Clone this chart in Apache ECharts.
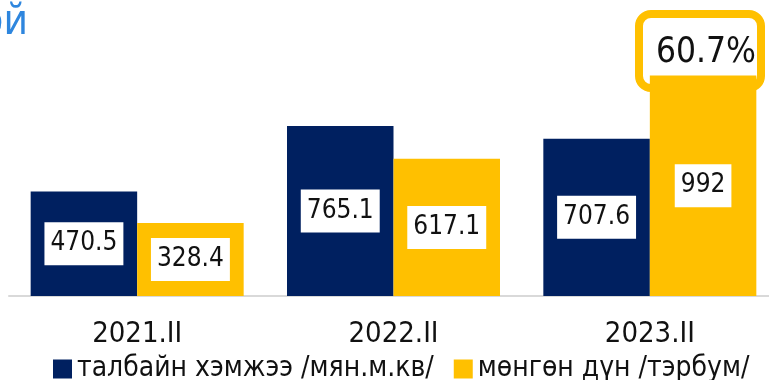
<!DOCTYPE html>
<html>
<head>
<meta charset="utf-8">
<script src="https://cdn.jsdelivr.net/npm/echarts@6/dist/echarts.min.js"></script>
<style>
  html, body { margin: 0; padding: 0; background: #ffffff; overflow: hidden; }
  #chart { width: 790px; height: 380px; }
</style>
</head>
<body>
<div id="chart"></div>
<script>
// Quarterly figures: floor area (thousand sq. m) and amount (billion ₮)
var categories = ['2021.II', '2022.II', '2023.II'];
var areaValues = [470.5, 765.1, 707.6];
var amountValues = [328.4, 617.1, 992];
var seriesNames = ['талбайн хэмжээ /мян.м.кв/', 'мөнгөн дүн /тэрбум/'];
var growthLabel = '60.7%';
var titleText = 'ой';

var NAVY = '#002060';
var GOLD = '#FFC000';
var NARROW = "'Liberation Sans Narrow', 'Arial Narrow', 'DejaVu Sans Condensed', sans-serif";

// the plot runs slightly past the right edge of the page, so the canvas is wider than the viewport
var chart = echarts.init(document.getElementById('chart'), null, { renderer: 'canvas' });

var valueLabel = {
  show: true,
  position: 'inside',
  backgroundColor: '#ffffff',
  padding: [7, 6, 6, 6],
  color: '#111111',
  fontFamily: NARROW,
  fontSize: 26,
  lineHeight: 30
};

chart.setOption({
  animation: false,
  backgroundColor: '#ffffff',
  grid: { left: 9, width: 769, top: 7, bottom: 84, containLabel: false },
  legend: {
    left: 48,
    top: 350,
    itemWidth: 19,
    itemHeight: 19,
    itemGap: 20,
    icon: 'rect',
    textStyle: { fontFamily: NARROW, fontSize: 28, lineHeight: 28, color: '#111111' },
    data: seriesNames
  },
  xAxis: {
    type: 'category',
    data: categories,
    axisLine: { show: true, lineStyle: { color: '#d9d9d9', width: 2 } },
    axisTick: { show: false },
    axisLabel: { margin: 24, fontFamily: NARROW, fontSize: 29, color: '#111111' }
  },
  yAxis: {
    type: 'value',
    min: 0,
    max: 1300,
    show: false,
    splitLine: { show: false }
  },
  series: [
    {
      name: seriesNames[0],
      type: 'bar',
      data: areaValues,
      barWidth: 106.5,
      barGap: '0%',
      itemStyle: { color: NAVY },
      label: valueLabel
    },
    {
      name: seriesNames[1],
      type: 'bar',
      data: amountValues,
      barWidth: 106.5,
      barGap: '0%',
      itemStyle: { color: GOLD },
      label: valueLabel
    }
  ],
  graphic: [
    {
      type: 'text',
      x: 28,
      y: 2,
      style: {
        text: titleText,
        align: 'right',
        verticalAlign: 'top',
        fill: '#2e86de',
        font: "42px 'Liberation Sans Narrow', 'Arial Narrow', 'DejaVu Sans Condensed', sans-serif"
      }
    },
    {
      type: 'group',
      left: 635,
      top: 10,
      z: 100,
      children: [
        {
          type: 'rect',
          shape: { x: 4, y: 4, width: 122, height: 74, r: 12 },
          style: { fill: '#ffffff', stroke: GOLD, lineWidth: 8 }
        },
        {
          type: 'text',
          style: {
            text: growthLabel,
            x: 121,
            y: 43,
            align: 'right',
            verticalAlign: 'middle',
            fill: '#111111',
            font: "35px 'Liberation Sans Narrow', 'Arial Narrow', 'DejaVu Sans Condensed', sans-serif"
          }
        }
      ]
    }
  ]
});
</script>
</body>
</html>
